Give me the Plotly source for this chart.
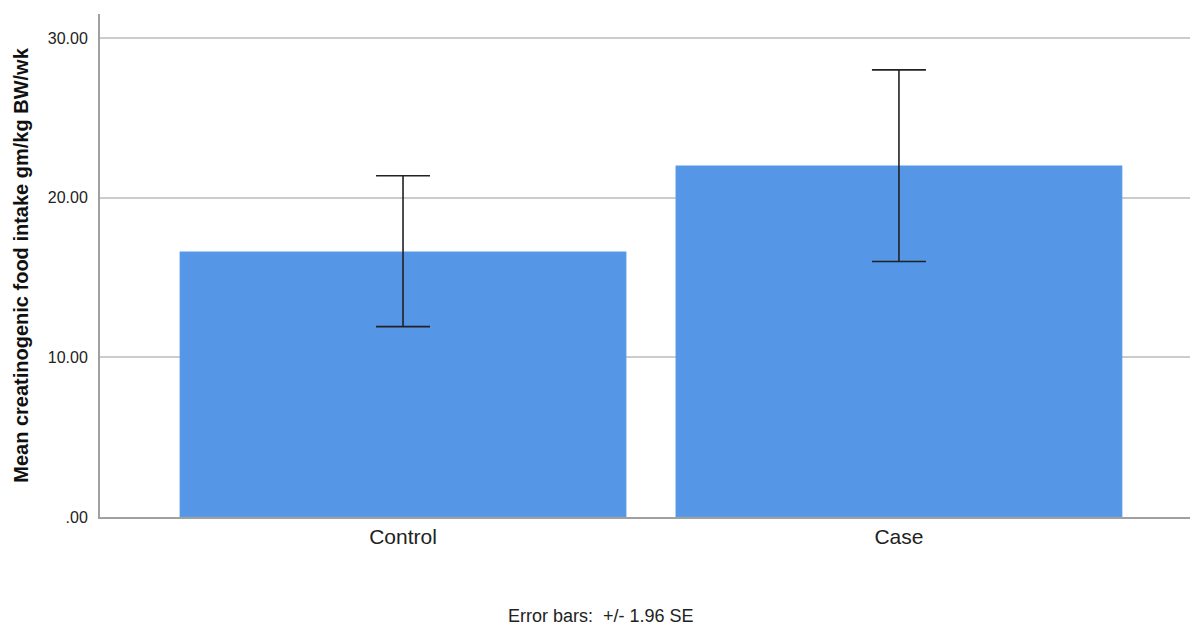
import plotly.graph_objects as go

categories = ["Control", "Case"]
means = [16.61, 22.0]
upper = [21.37, 28.0]
lower = [11.92, 16.0]
ytick_vals = [0, 10, 20, 30]
ytick_text = [".00", "10.00", "20.00", "30.00"]

x_pos = list(range(len(categories)))
err_plus = [u - m for u, m in zip(upper, means)]
err_minus = [m - l for m, l in zip(means, lower)]

# page body has an 8px margin, so the figure is placed at (8, 8)
OFF = 8
W, H = 1198 - OFF, 626 - OFF
plot_left = 100 - OFF
plot_top = 14 - OFF
plot_bottom = 517.5 - OFF
plot_h = plot_bottom - plot_top
plot_w = W - plot_left

fig = go.Figure()
fig.add_trace(go.Bar(
    x=x_pos, y=means, width=0.9,
    marker=dict(color="#5596E6", line=dict(color="#6fa6ea", width=0.5)),
    error_y=dict(type="data", symmetric=False, array=err_plus, arrayminus=err_minus,
                 color="#222222", thickness=1.6, width=27),
    showlegend=False,
))

fig.update_layout(
    width=W, height=H,
    margin=dict(l=plot_left, r=0, t=plot_top, b=H - plot_bottom),
    paper_bgcolor="white", plot_bgcolor="white",
    font=dict(family="Liberation Sans, Arial", color="#222222"),
    xaxis=dict(range=[-0.611, 1.603], tickvals=x_pos, ticktext=categories,
               tickfont=dict(size=21, color="#222222"), showgrid=False,
               showline=True, linecolor="#a0a0a0", linewidth=2, ticks="", zeroline=False,
               ticklabelstandoff=0),
    yaxis=dict(range=[0, 31.5], tickvals=ytick_vals, ticktext=ytick_text,
               tickfont=dict(size=16, color="#222222"), showgrid=True, gridcolor="#cccccc",
               gridwidth=1.5, showline=True, linecolor="#a0a0a0", linewidth=2, ticks="",
               ticklabelstandoff=7, zeroline=False,
               title=dict(text="<b>Mean creatinogenic food intake gm/kg BW/wk</b>",
                          font=dict(size=20, color="#111111"), standoff=14)),
    annotations=[dict(text="Error bars:&nbsp; +/- 1.96 SE", xref="paper", yref="paper",
                      x=(601 - 100) / (1198 - 100), y=-(609 - plot_bottom) / plot_h,
                      showarrow=False, font=dict(size=18, color="#222222"),
                      xanchor="center", yanchor="middle")],
)

fig.write_html("out.html")
